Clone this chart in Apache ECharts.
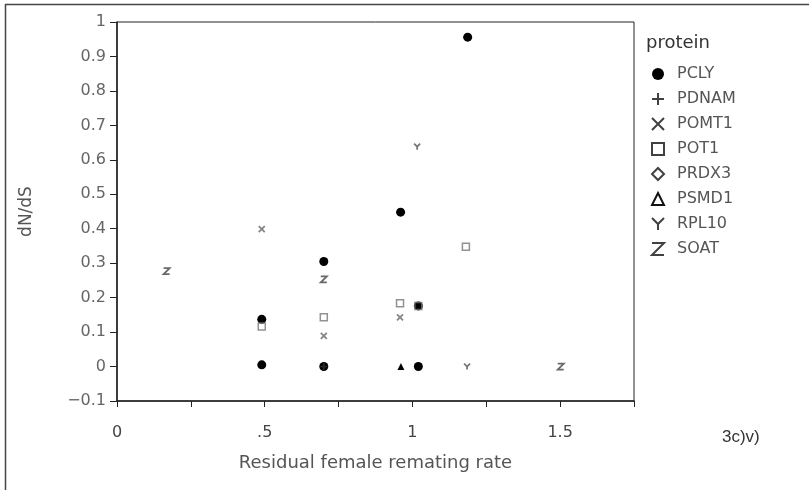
<!DOCTYPE html>
<html>
<head>
<meta charset="utf-8">
<script src="https://cdn.jsdelivr.net/npm/echarts@6/dist/echarts.min.js"></script>
<style>
  html, body { margin: 0; padding: 0; background: #fff; }
  #chart { width: 809px; height: 490px; }
</style>
</head>
<body>
<div id="chart"></div>
<script>
  // protein names (legend order)
  const proteins = ['PCLY', 'PDNAM', 'POMT1', 'POT1', 'PRDX3', 'PSMD1', 'RPL10', 'SOAT']

  // [residual female remating rate, dN/dS]
  const pcly = [[0.49, 0.137], [0.49, 0.005], [0.70, 0.305], [0.70, 0.0], [0.96, 0.448], [1.02, 0.176], [1.02, 0.0], [1.187, 0.956]]
  const pdnam = [[0.70, 0.0]]
  const pomt1 = [[0.49, 0.399], [0.70, 0.089], [0.958, 0.143]]
  const pot1 = [[0.49, 0.116], [0.70, 0.143], [0.958, 0.184], [1.02, 0.176], [1.181, 0.348]]
  const prdx3 = []
  const psmd1 = [[0.961, 0.0]]
  const rpl10 = [[1.016, 0.638], [1.185, 0.0]]
  const soat = [[0.168, 0.277], [0.70, 0.253], [1.502, 0.0]]

  const xTickLabels = { '0': '0', '0.5': '.5', '1': '1', '1.5': '1.5' }

  /* 符号路径 */
  const sym = {
    plus: 'path://M5,0L5,10M0,5L10,5',
    cross: 'path://M0,0L10,10M10,0L0,10',
    square: 'path://M0,0L10,0L10,10L0,10Z',
    diamond: 'path://M5,0L10,5L5,10L0,5Z',
    triangle: 'path://M5,0L10,10L0,10Z',
    ysym: 'path://M0,0L5,5L10,0M5,5L5,10',
    zsym: 'path://M0,0L10,0L0,10L10,10'
  }

  const dom = echarts.init(document.getElementById('chart'))

  function strokeStyle(c, w) {
    return { color: 'rgba(0,0,0,0)', borderColor: c, borderWidth: w }
  }

  const option = {
    animation: false,
    backgroundColor: '#fff',
    textStyle: { fontFamily: 'DejaVu Sans' },
    grid: {
      left: 117,
      top: 22,
      right: 175,
      bottom: 89,
      show: true,
      borderColor: '#222',
      borderWidth: 1
    },
    legend: {
      orient: 'vertical',
      left: 646,
      top: 61,
      itemWidth: 12,
      itemHeight: 12,
      itemGap: 9,
      textStyle: { color: '#555', fontSize: 16, padding: [0, 0, 0, 8] },
      data: [
        { name: 'PCLY', icon: 'circle', itemStyle: { color: '#000', borderWidth: 0 } },
        { name: 'PDNAM', icon: sym.plus, itemStyle: strokeStyle('#111', 2) },
        { name: 'POMT1', icon: sym.cross, itemStyle: strokeStyle('#111', 2) },
        { name: 'POT1', icon: sym.square, itemStyle: strokeStyle('#111', 2) },
        { name: 'PRDX3', icon: sym.diamond, itemStyle: strokeStyle('#111', 2) },
        { name: 'PSMD1', icon: sym.triangle, itemStyle: strokeStyle('#111', 2) },
        { name: 'RPL10', icon: sym.ysym, itemStyle: strokeStyle('#111', 2) },
        { name: 'SOAT', icon: sym.zsym, itemStyle: strokeStyle('#111', 2) }
      ]
    },
    xAxis: {
      type: 'value',
      min: 0,
      max: 1.75,
      interval: 0.25,
      name: 'Residual female remating rate',
      nameLocation: 'middle',
      nameGap: 53,
      nameTextStyle: { color: '#555', fontSize: 18 },
      axisLine: { onZero: false, lineStyle: { color: '#222', width: 1.5 } },
      axisTick: { show: true, length: 6, lineStyle: { color: '#222' } },
      splitLine: { show: false },
      axisLabel: {
        color: '#444',
        fontSize: 16,
        margin: 24,
        showMaxLabel: true,
        formatter: function (v) {
          const k = String(Math.round(v * 100) / 100)
          return xTickLabels[k] || ''
        }
      }
    },
    yAxis: {
      type: 'value',
      min: -0.1,
      max: 1,
      interval: 0.1,
      name: 'dN/dS',
      nameLocation: 'middle',
      nameGap: 82,
      nameTextStyle: { color: '#555', fontSize: 17 },
      axisLine: { onZero: false, lineStyle: { color: '#222', width: 1.5 } },
      axisTick: { show: true, length: 7, lineStyle: { color: '#222' } },
      splitLine: { show: false },
      axisLabel: {
        color: '#666',
        fontSize: 16,
        margin: 11,
        formatter: function (v) {
          const r = Math.round(v * 10) / 10
          if (r === 1) return '1'
          if (r === 0) return '0'
          if (r < 0) return '\u2212' + Math.abs(r).toFixed(1)
          return r.toFixed(1)
        }
      }
    },
    series: [
      { name: 'PCLY', type: 'scatter', symbol: 'circle', symbolSize: 9, itemStyle: { color: '#000', opacity: 1 }, data: pcly },
      { name: 'PDNAM', type: 'scatter', symbol: sym.plus, symbolSize: 7, itemStyle: strokeStyle('#333', 1.5), data: pdnam },
      { name: 'POMT1', type: 'scatter', symbol: sym.cross, symbolSize: 6, itemStyle: strokeStyle('#666', 1.8), data: pomt1 },
      { name: 'POT1', type: 'scatter', symbol: sym.square, symbolSize: 7, itemStyle: strokeStyle('#777', 1.5), data: pot1 },
      { name: 'PRDX3', type: 'scatter', symbol: sym.diamond, symbolSize: 7, itemStyle: strokeStyle('#555', 1.5), data: prdx3 },
      { name: 'PSMD1', type: 'scatter', symbol: 'triangle', symbolSize: 7, itemStyle: { color: '#000', opacity: 1 }, data: psmd1 },
      { name: 'RPL10', type: 'scatter', symbol: sym.ysym, symbolSize: 6, itemStyle: strokeStyle('#555', 1.8), data: rpl10 },
      { name: 'SOAT', type: 'scatter', symbol: sym.zsym, symbolSize: 6, itemStyle: strokeStyle('#444', 1.8), data: soat }
    ],
    graphic: [
      { type: 'line', shape: { x1: 5, y1: 4.5, x2: 809, y2: 4.5 }, style: { stroke: '#444', lineWidth: 1.5 } },
      { type: 'line', shape: { x1: 5.5, y1: 4, x2: 5.5, y2: 490 }, style: { stroke: '#444', lineWidth: 1.5 } },
      { type: 'text', left: 646, top: 34, style: { text: 'protein', fill: '#333', fontSize: 18, fontFamily: 'DejaVu Sans' } },
      { type: 'text', left: 722, top: 429, style: { text: '3c)v)', fill: '#333', fontSize: 17, fontFamily: 'Liberation Sans' } }
    ]
  }

  dom.setOption(option)
  window.addEventListener('resize', function () {
    dom.resize()
  })
</script>
</body>
</html>
